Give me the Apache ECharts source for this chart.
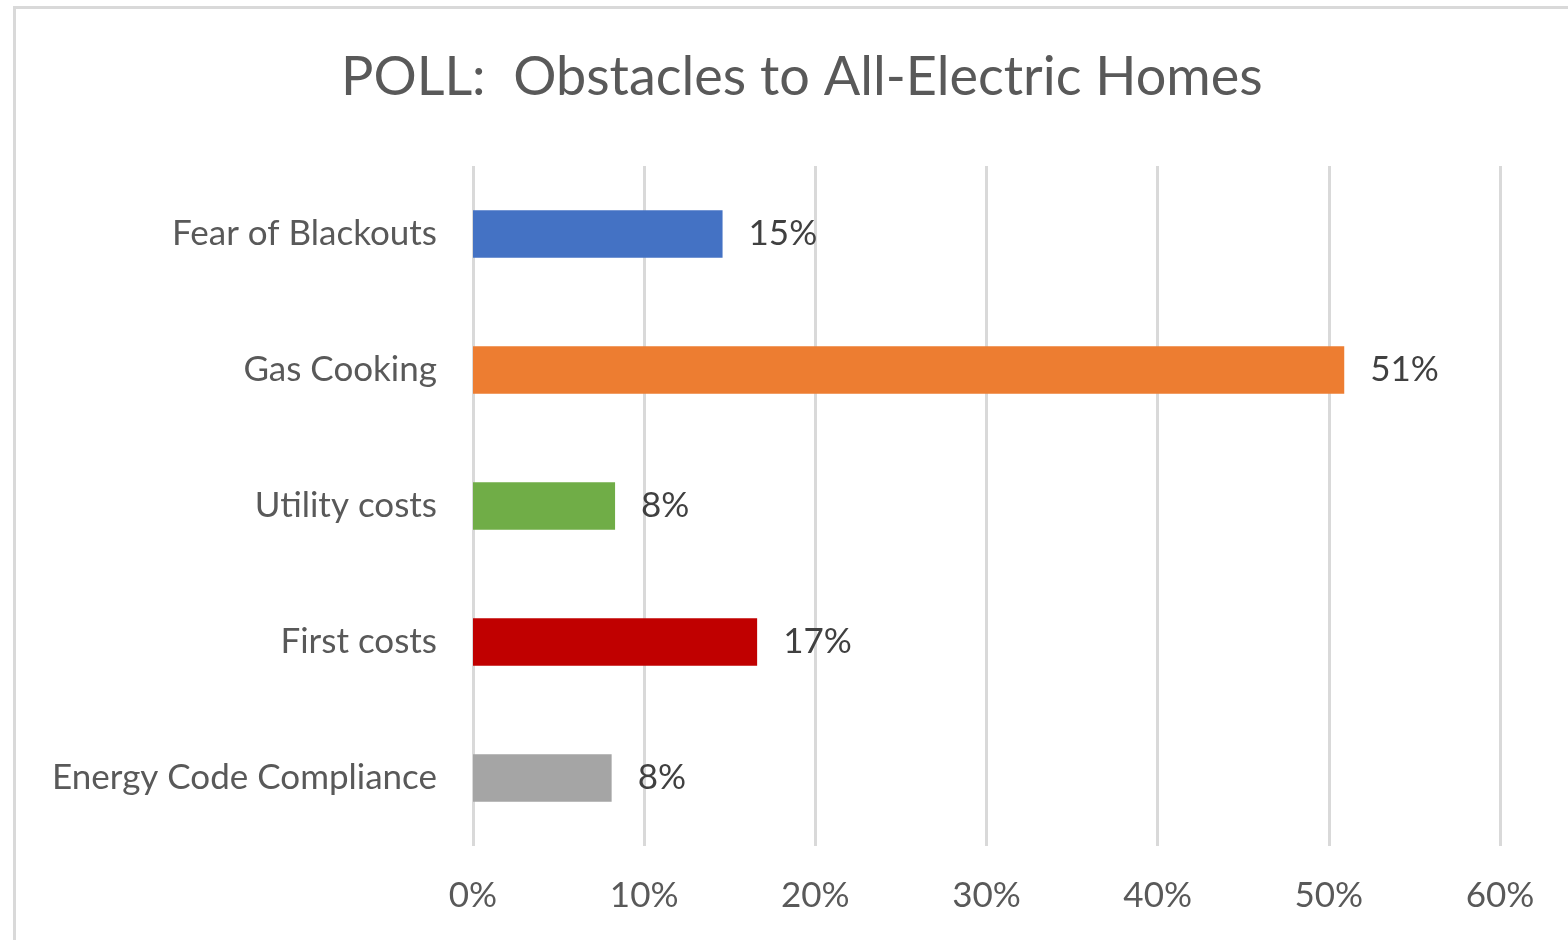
<!DOCTYPE html>
<html><head><meta charset="utf-8">
<script src="https://cdn.jsdelivr.net/npm/echarts@6/dist/echarts.min.js"></script>
<style>html,body{margin:0;padding:0;background:#fff}#c{width:1568px;height:940px}</style>
</head><body><div id="c"></div>
<script>
const categories = ['Fear of Blackouts', 'Gas Cooking', 'Utility costs', 'First costs', 'Energy Code Compliance'];
const values = [0.1458, 0.509, 0.083, 0.166, 0.081];
const colors = ['#4472C4', '#ED7D31', '#70AD47', '#C00000', '#A5A5A5'];
const xTicks = [0, 0.1, 0.2, 0.3, 0.4, 0.5, 0.6];
const FONT = 'Lato';

const chart = echarts.init(document.getElementById('c'));
chart.setOption({
  animation: false,
  textStyle: { fontFamily: FONT },
  graphic: [{
    type: 'rect', left: 12, top: 5, shape: { width: 1600, height: 1000 },
    style: { fill: 'none', stroke: '#D9D9D9', lineWidth: 3 }, silent: true
  }],
  title: {
    text: 'POLL:  Obstacles to All-Electric Homes',
    left: 336, top: 46,
    textStyle: { fontFamily: FONT, fontSize: 54, fontWeight: 'normal', color: '#595959' }
  },
  grid: { left: 473, right: 68, top: 166, bottom: 94, containLabel: false },
  xAxis: {
    type: 'value', min: xTicks[0], max: xTicks[xTicks.length - 1], interval: 0.1,
    axisLine: { show: false }, axisTick: { show: false },
    splitLine: { show: true, lineStyle: { color: '#D9D9D9', width: 3 } },
    axisLabel: {
      margin: 32, fontSize: 35, color: '#595959', fontFamily: FONT,
      formatter: v => Math.round(v * 100) + '%'
    }
  },
  yAxis: {
    type: 'category', data: categories, inverse: true,
    axisLine: { show: false }, axisTick: { show: false },
    axisLabel: { margin: 36, fontSize: 35, color: '#595959', fontFamily: FONT }
  },
  series: [{
    type: 'bar', barWidth: '35%',
    data: values.map((v, i) => ({ value: v, itemStyle: { color: colors[i] } })),
    label: {
      show: true, position: 'right', distance: 26, fontSize: 35, color: '#404040', fontFamily: FONT,
      formatter: p => Math.round(p.value * 100) + '%'
    }
  }]
});
</script></body></html>
